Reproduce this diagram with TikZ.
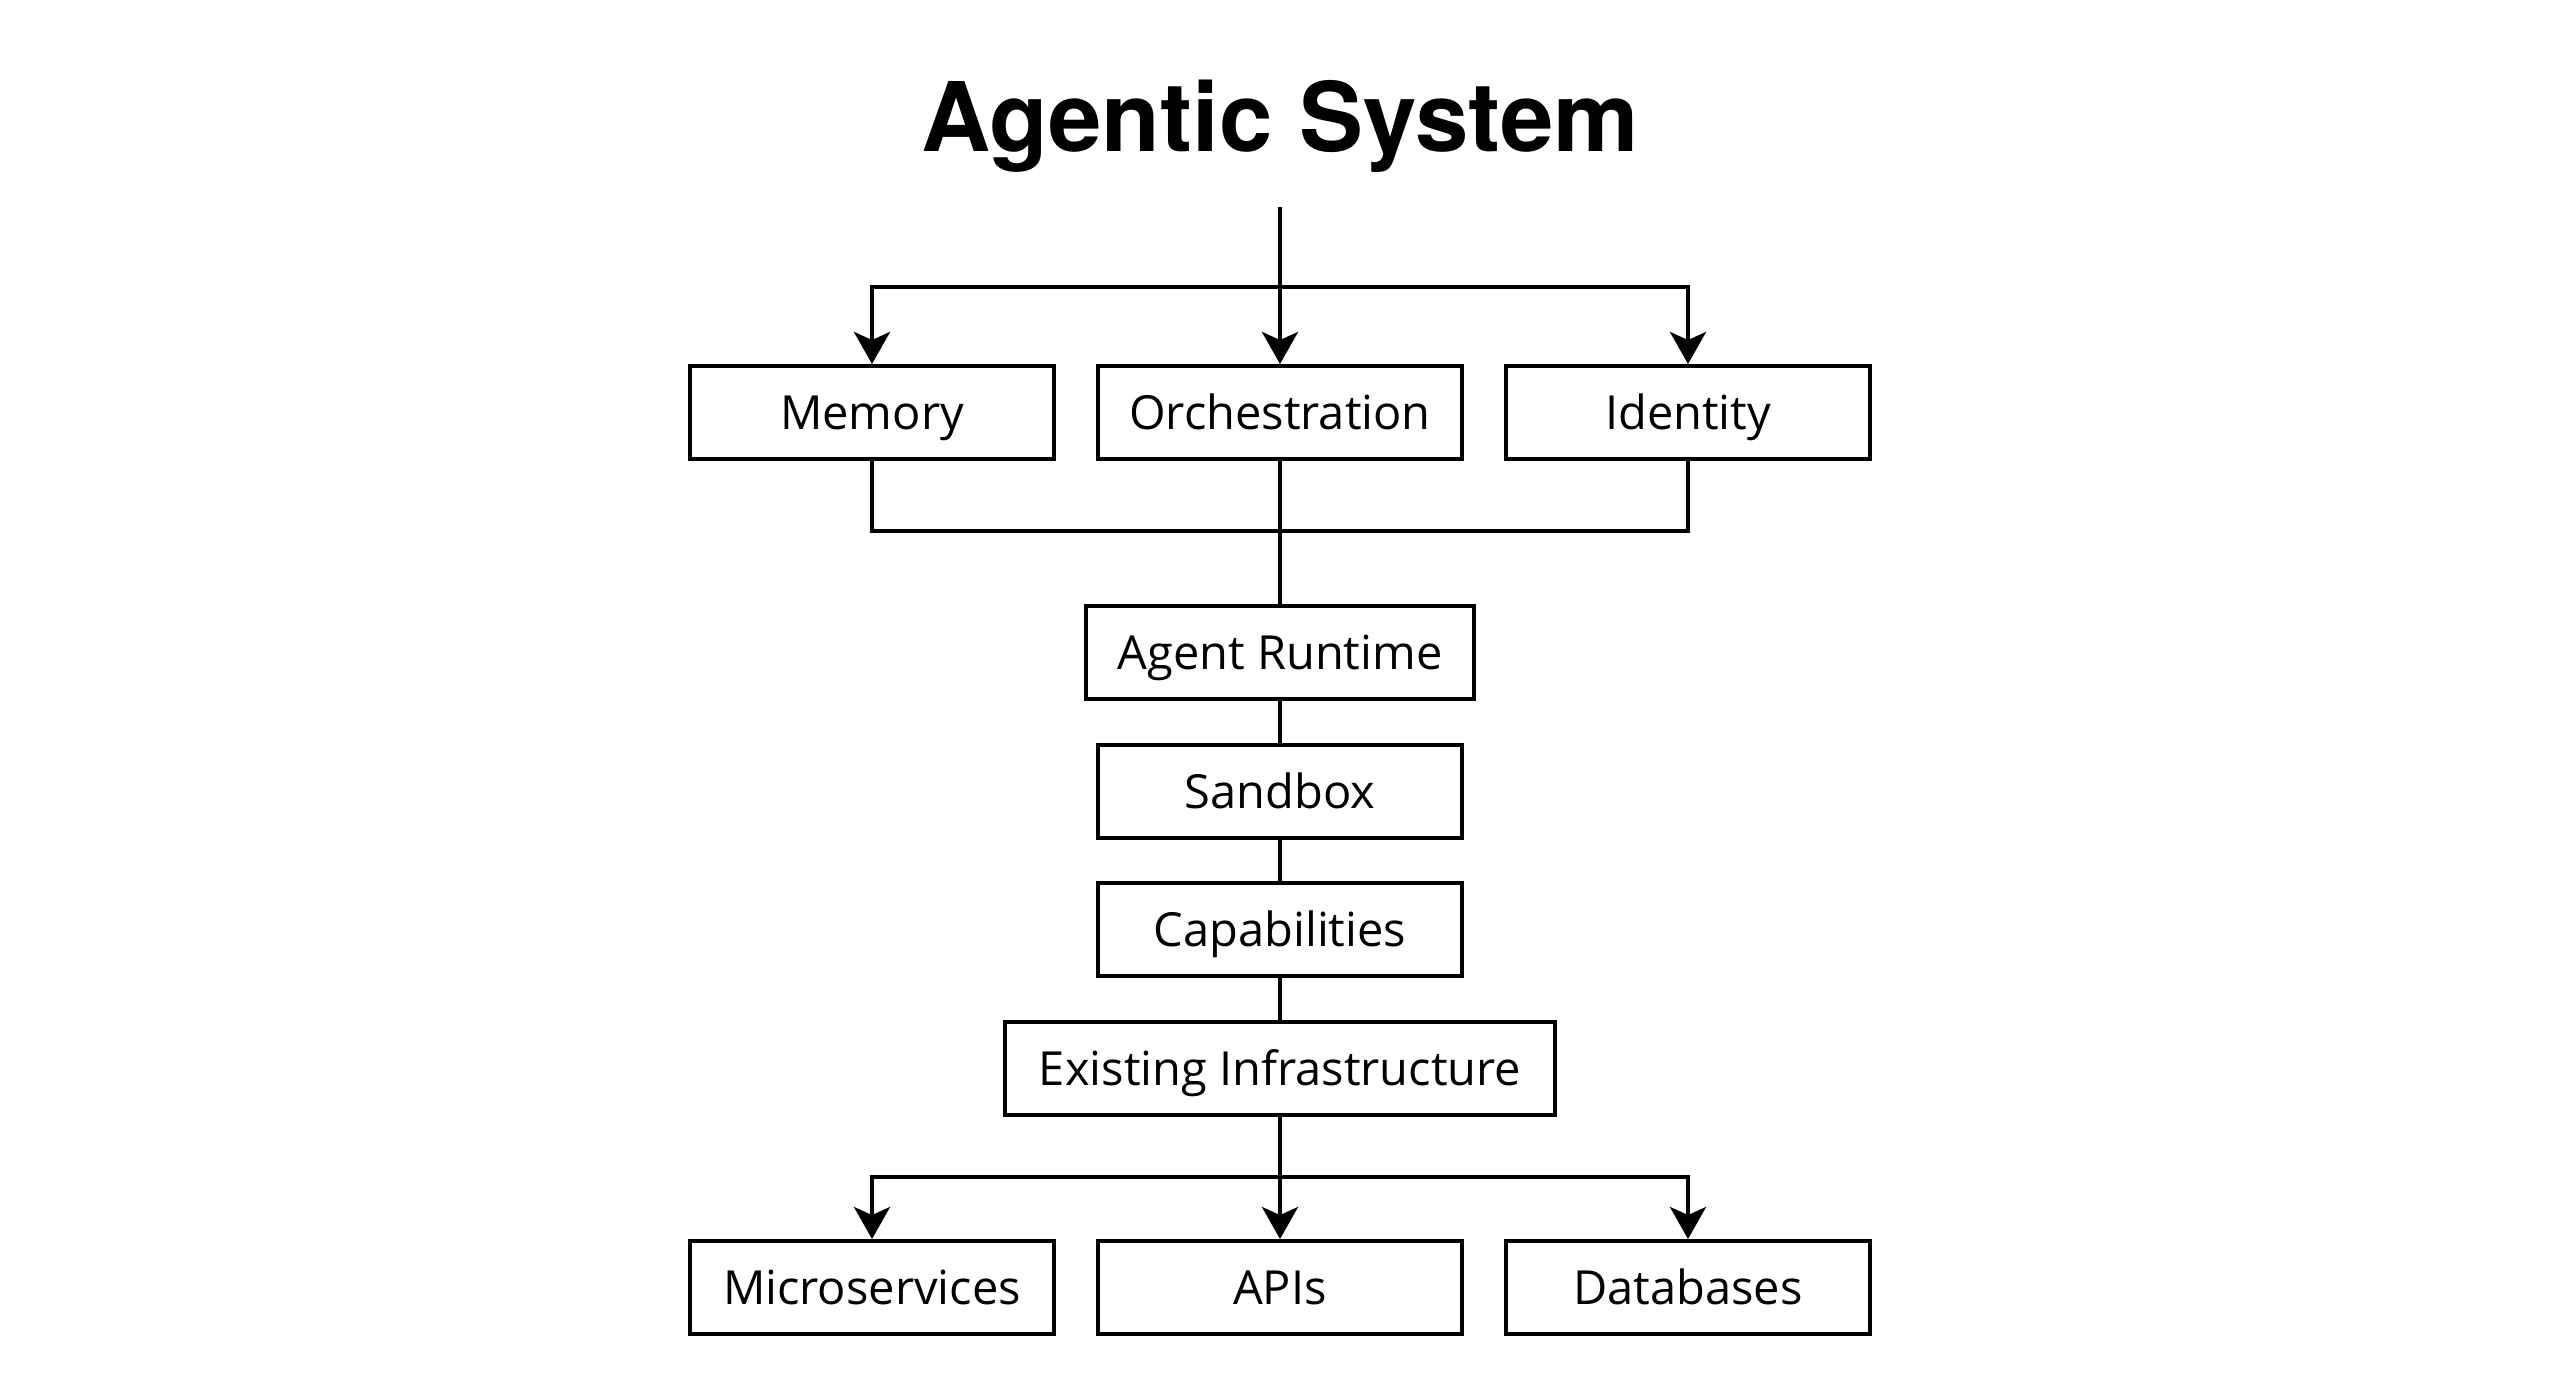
\documentclass[tikz,border=0pt]{standalone}
\usepackage{fontspec}
\setmainfont{Open Sans}
\newfontfamily\titlefont{TeX Gyre Heros}
\usetikzlibrary{arrows.meta}
\begin{document}
\begin{tikzpicture}[x=1pt,y=-1pt,
  line width=4pt, line join=miter,
  box/.style={draw, rectangle, minimum width=364pt, minimum height=93pt, inner sep=0pt,
    font=\fontsize{47}{50}\selectfont, text height=34pt, text depth=0pt},
  arr/.style={-{Stealth[length=32pt,width=36pt,inset=8pt]}}]
\useasboundingbox[fill=white] (0,0) rectangle (2560,1396);
\node[anchor=base, font=\titlefont\bfseries\fontsize{96}{100}\selectfont] (title) at (1280,152) {Agentic System};
\coordinate (top) at (1280,207);
\node[box] (mem) at (872,412.5) {Memory};
\node[box] (orch) at (1280,412.5) {Orchestration};
\node[box] (ident) at (1688,412.5) {Identity};
\node[box, minimum width=388pt] (ar) at (1280,652.5) {Agent Runtime};
\node[box] (sb) at (1280,791.5) {Sandbox};
\node[box] (cap) at (1280,929.5) {Capabilities};
\node[box, minimum width=550pt] (ei) at (1280,1068.5) {Existing Infrastructure};
\node[box] (ms) at (872,1287.5) {Microservices};
\node[box] (api) at (1280,1287.5) {APIs};
\node[box] (db) at (1688,1287.5) {Databases};
\coordinate (s1) at (1280,287);
\coordinate (j1) at (1280,531);
\coordinate (s2) at (1280,1177);
% top fan-out
\draw[arr] (top) -- (orch.north);
\draw[arr] (s1) -| (mem.north);
\draw[arr] (s1) -| (ident.north);
% merge to runtime
\draw (mem.south) |- (j1) -| (ident.south);
\draw (orch.south) -- (ar.north);
\draw (ar.south) -- (sb.north);
\draw (sb.south) -- (cap.north);
\draw (cap.south) -- (ei.north);
% bottom fan-out
\draw[arr] (ei.south) -- (api.north);
\draw[arr] (s2) -| (ms.north);
\draw[arr] (s2) -| (db.north);
\end{tikzpicture}
\end{document}
